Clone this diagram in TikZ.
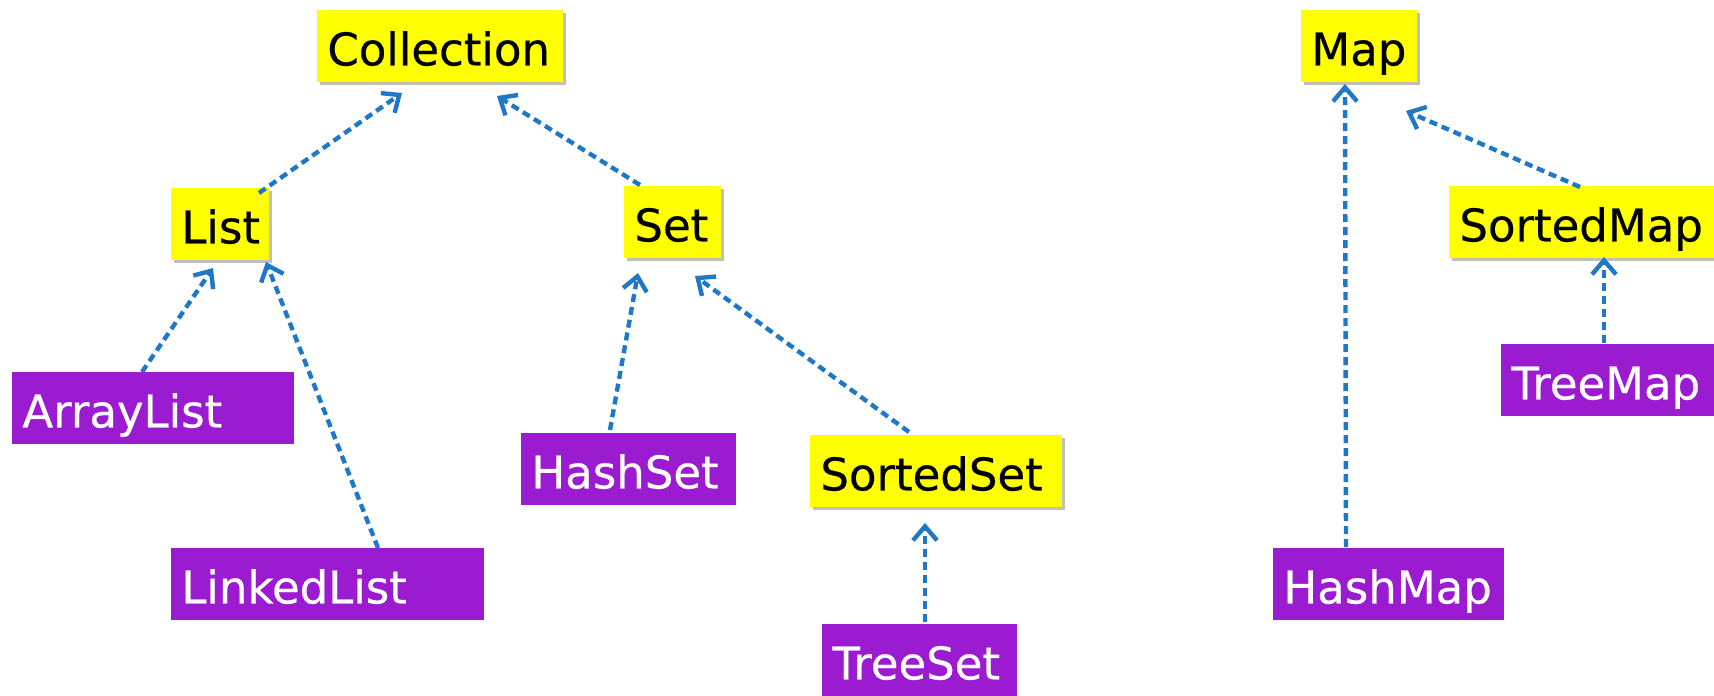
\documentclass[tikz,border=0pt]{standalone}
\usepackage{fontspec}
\setmainfont{DejaVu Sans}
\newfontfamily\boxfont{DejaVu Sans}[FakeBold=0.5]
\usepackage{tikz}
\usetikzlibrary{arrows.meta,calc,shadows}
\definecolor{ifacec}{HTML}{FFFF00}
\definecolor{implc}{HTML}{9B1BD0}
\definecolor{fleche}{HTML}{1F77C8}
\tikzset{
  iface/.style={rectangle, fill=ifacec, anchor=north west, inner xsep=5pt, inner ysep=0pt,
                minimum height=36pt, text height=21.5pt, text depth=2.5pt, align=left,
                font=\boxfont\fontsize{22.5pt}{27pt}\selectfont,
                drop shadow={shadow xshift=1.5pt, shadow yshift=-1.5pt, fill=black, opacity=0.25}},
  impl/.style={rectangle, fill=implc, text=white, anchor=north west, inner xsep=5pt, inner ysep=0pt,
               minimum height=36pt, text height=21.5pt, text depth=2.5pt, align=left,
               font=\boxfont\fontsize{22.5pt}{27pt}\selectfont},
  arr/.style={-{Straight Barb[length=7pt,width=12pt]}, line width=2.2pt, draw=fleche,
              dash pattern=on 4pt off 2.5pt},
}
\begin{document}
\begin{tikzpicture}[x=0.5pt, y=-0.5pt]
    \useasboundingbox (0,0) rectangle (1714,696);
    \node[iface, text width=113pt] (coll) at (317,10) {Collection};
    \node[iface, text width=39pt] (list) at (171,188) {List};
    \node[iface, text width=38.5pt] (set) at (624,186) {Set};
    \node[iface, text width=116pt] (sset) at (810,435) {SortedSet};
    \node[iface, text width=48pt] (map) at (1301,10) {Map};
    \node[iface, text width=122.5pt] (smap) at (1449,186) {SortedMap};
    \node[impl, text width=131pt] (alist) at (12,372) {ArrayList};
    \node[impl, text width=146.5pt] (llist) at (171,548) {LinkedList};
    \node[impl, text width=97.5pt] (hset) at (521,433) {HashSet};
    \node[impl, text width=87.5pt] (tset) at (822,624) {TreeSet};
    \node[impl, text width=105.5pt] (hmap) at (1273,548) {HashMap};
    \node[impl, text width=97.5pt] (tmap) at (1501,344) {TreeMap};
    \draw[arr] ($(list.north west)+(88,5)$) -- ($(coll.north west)+(85,83)$);
    \draw[arr] ($(set.north west)+(16,-1)$) -- ($(coll.north west)+(180,86)$);
    \draw[arr] ($(alist.north west)+(130,0)$) -- ($(list.north west)+(42,80)$);
    \draw[arr] ($(llist.north west)+(207,0)$) -- ($(list.north west)+(95,74)$);
    \draw[arr] ($(hset.north west)+(89,-3)$) -- ($(set.north west)+(14,87)$);
    \draw[arr] ($(sset.north west)+(99,-3)$) -- ($(set.north west)+(71,90)$);
    \draw[arr] ($(tset.north west)+(103,-2)$) -- ($(sset.north west)+(115,88)$);
    \draw[arr] ($(hmap.north west)+(73,-1)$) -- ($(map.north west)+(44,74)$);
    \draw[arr] ($(smap.north west)+(131,1)$) -- ($(map.north west)+(105,101)$);
    \draw[arr] ($(tmap.north west)+(103,-1)$) -- ($(smap.north west)+(155,71)$);
\end{tikzpicture}
\end{document}
